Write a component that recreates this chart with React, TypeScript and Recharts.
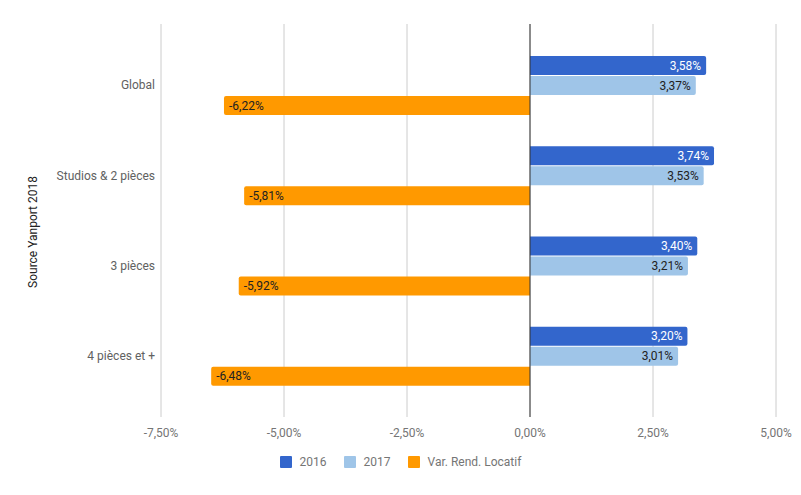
import React from 'react';
import { BarChart, Bar, XAxis, YAxis, CartesianGrid, ReferenceLine, LabelList, Label } from 'recharts';

const categories = ['Global', 'Studios & 2 pièces', '3 pièces', '4 pièces et +'];
const values2016 = [3.58, 3.74, 3.40, 3.20];
const values2017 = [3.37, 3.53, 3.21, 3.01];
const valuesVar = [-6.22, -5.81, -5.92, -6.48];
const xTicks = [-7.5, -5, -2.5, 0, 2.5, 5];

const series = [
  { key: 's2016', name: '2016', color: '#3366cc', labelColor: '#ffffff' },
  { key: 's2017', name: '2017', color: '#9fc5e8', labelColor: '#222222' },
  { key: 'sVar', name: 'Var. Rend. Locatif', color: '#ff9900', labelColor: '#222222' },
];

const data = categories.map((c, i) => ({
  category: c,
  s2016: values2016[i],
  s2017: values2017[i],
  sVar: valuesVar[i],
}));

const fmt = (v: number) => v.toFixed(2).replace('.', ',') + '%';
const FONT = 'Roboto, "Noto Sans", sans-serif';

const makeLabel = (color: string) => (props: any) => {
  const { x, y, width, height, value } = props;
  const left = Math.min(x, x + width);
  const right = Math.max(x, x + width);
  const pos = value >= 0;
  return (
    <text
      x={pos ? right - 5 : left + 5}
      y={y + height / 2}
      dy="0.35em"
      textAnchor={pos ? 'end' : 'start'}
      fill={color}
      fontSize={12}
      fontFamily={FONT}
    >
      {fmt(value)}
    </text>
  );
};

export default function App() {
  return (
    <div style={{ position: 'absolute', left: 0, top: 0, width: 801, height: 495, background: '#fff', fontFamily: FONT }}>
      <BarChart
        width={801}
        height={495}
        data={data}
        layout="vertical"
        margin={{ top: 24, right: 25, left: 0, bottom: 48 }}
        barSize={19}
        barGap={1}
      >
        <CartesianGrid horizontal={false} stroke="#cccccc" />
        <XAxis
          type="number"
          domain={[-7.5, 5]}
          ticks={xTicks}
          tickFormatter={fmt}
          axisLine={false}
          tickLine={false}
          tickSize={0}
          tickMargin={11}
          height={30}
          tick={{ fill: '#757575', fontSize: 12, fontFamily: FONT }}
          interval={0}
        />
        <YAxis
          type="category"
          dataKey="category"
          width={161}
          axisLine={false}
          tickLine={false}
          tickSize={0}
          tickMargin={6}
          padding={{ top: 16, bottom: 16 }}
          tick={{ fill: '#616161', fontSize: 12, fontFamily: FONT }}
          interval={0}
        >
          <Label
            value="Source Yanport 2018"
            angle={-90}
            position="insideLeft"
            offset={0}
            content={(p: any) => (
              <text
                x={33}
                y={232}
                transform="rotate(-90 33 232)"
                textAnchor="middle"
                dy="0.35em"
                fill="#222222"
                fontSize={12}
                fontFamily={FONT}
              >
                Source Yanport 2018
              </text>
            )}
          />
        </YAxis>
        {series.map((s) => (
          <Bar key={s.key} dataKey={s.key} name={s.name} fill={s.color} radius={[0, 2, 2, 0]} isAnimationActive={false}>
            <LabelList dataKey={s.key} content={makeLabel(s.labelColor)} />
          </Bar>
        ))}
        <ReferenceLine x={0} stroke="#333333" strokeWidth={1} />
      </BarChart>
      <div
        style={{
          position: 'absolute',
          left: 0,
          top: 455,
          width: 801,
          display: 'flex',
          justifyContent: 'center',
          alignItems: 'center',
          fontSize: 12,
          color: '#757575',
          fontFamily: FONT,
        }}
      >
        {series.map((s, i) => (
          <div key={s.key} style={{ display: 'flex', alignItems: 'center', marginLeft: i === 0 ? 0 : 17 }}>
            <span style={{ display: 'inline-block', width: 12, height: 12, background: s.color, borderRadius: 1, marginRight: 8 }} />
            <span style={{ lineHeight: '14px' }}>{s.name}</span>
          </div>
        ))}
      </div>
    </div>
  );
}
